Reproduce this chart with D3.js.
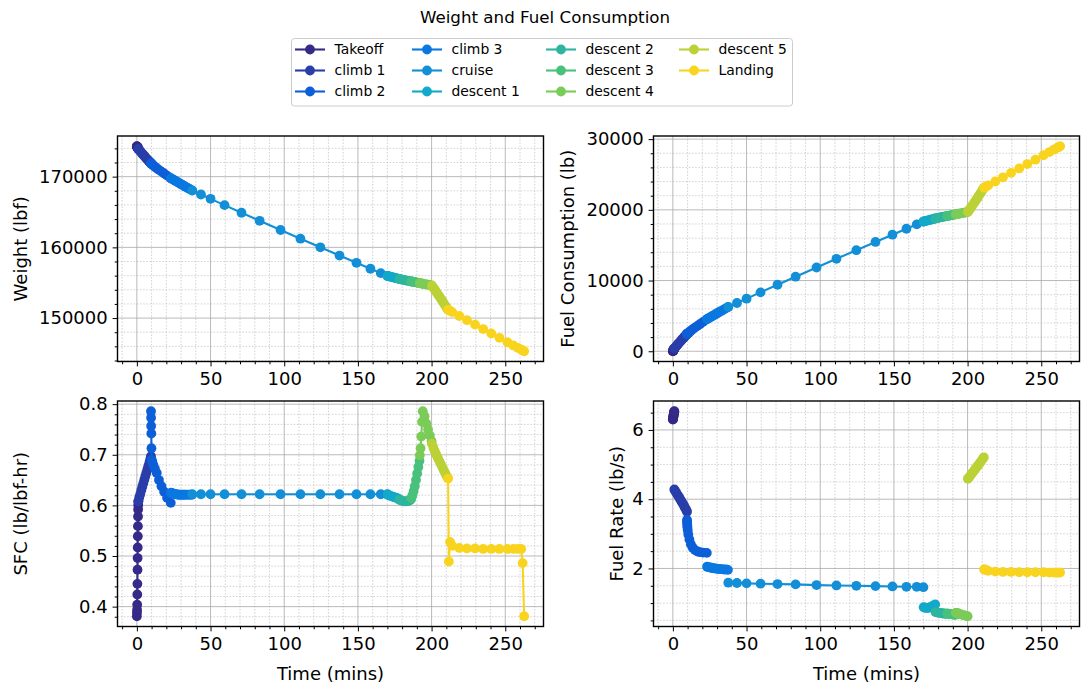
<!DOCTYPE html>
<html>
<head>
<meta charset="utf-8">
<script src="https://cdn.jsdelivr.net/npm/d3@7"></script>
<style>
  body { margin: 0; background: #fff; }
  svg { font-family: "DejaVu Sans", sans-serif; }
  .grid-major line { stroke: #a8a8a8; stroke-width: 0.8; }
  .grid-minor line { stroke: #c8c8c8; stroke-width: 0.8; stroke-dasharray: 1.6,1.6; }
  .tick text { fill: #000; }
  .tick line { stroke: #000; }
</style>
</head>
<body>
<svg id="chart" width="1089" height="691"></svg>
<script>
// flight phases, in the order they are flown
const phases = ["Takeoff", "climb 1", "climb 2", "climb 3", "cruise", "descent 1",
  "descent 2", "descent 3", "descent 4", "descent 5", "Landing"];
const phaseColors = ["#352a87", "#2a3ea9", "#0d5fd8", "#0a78e0", "#128fd6", "#13a9c9",
  "#2db59f", "#48c17c", "#7bcb58", "#bbd136", "#f9d41e"];

// time (mins), one list per phase
const timeData = [
  [0, 0.07, 0.14, 0.21, 0.29, 0.36, 0.43, 0.5, 0.57, 0.64, 0.71, 0.79, 0.86, 0.93, 1.0],
  [1.0, 1.6, 2.3, 3.0, 3.7, 4.4, 5.1, 5.8, 6.5, 7.2, 7.9, 8.6, 9.2, 9.6],
  [9.6, 9.65, 9.7, 9.8, 9.9, 10.1, 10.5, 11.2, 12.2, 13.5, 15.0, 16.7, 18.5, 20.5, 23.0],
  [23.2, 24.0, 25.0, 26.0, 27.0, 28.0, 29.0, 30.0, 31.0, 32.0, 33.0, 34.5, 36.0, 37.4],
  [37.6, 43.5, 50.0, 59.5, 71.0, 83.3, 97.5, 111.0, 124.5, 137.5, 149.0, 158.5, 165.5, 170.0],
  [170.2, 171.0, 172.0, 173.0, 174.0, 175.0, 176.0, 177.0, 178.0],
  [178.2, 179.2, 180.2, 181.2, 182.2, 183.2, 184.2, 185.2, 186.0],
  [186.2, 187.0, 187.8, 188.6, 189.4, 190.2, 191.0, 191.8],
  [192.0, 192.5, 193.0, 193.5, 194.0, 195.2, 196.4, 197.6, 198.8, 200.0],
  [200.2, 201.2, 202.2, 203.2, 204.2, 205.2, 206.2, 207.2, 208.2, 209.2, 210.2, 211.0],
  [211.2, 211.7, 212.5, 214.0, 218.8, 224.0, 229.5, 235.0, 240.5, 246.0, 251.5, 255.5, 258.5, 260.8, 261.8, 262.8]
];

// weight (lbf)
const weightData = [
  [174300, 174273, 174246, 174219, 174192, 174165, 174138, 174111, 174084, 174057, 174030, 174003, 173975, 173947, 173920],
  [173920, 173770, 173595, 173420, 173248, 173078, 172910, 172744, 172580, 172418, 172259, 172102, 171969, 171882],
  [171870, 171860, 171850, 171830, 171812, 171775, 171697, 171570, 171395, 171190, 170960, 170710, 170445, 170150, 169783],
  [169760, 169662, 169540, 169419, 169298, 169178, 169058, 168938, 168819, 168700, 168581, 168404, 168227, 168062],
  [168038, 167477, 166863, 165970, 164897, 163757, 162453, 161225, 160006, 158840, 157815, 156974, 156357, 155961],
  [155950, 155907, 155854, 155802, 155749, 155695, 155640, 155584, 155527],
  [155515, 155471, 155428, 155385, 155342, 155300, 155258, 155216, 155183],
  [155175, 155142, 155109, 155076, 155044, 155012, 154980, 154948],
  [154940, 154918, 154897, 154876, 154855, 154806, 154758, 154711, 154665, 154620],
  [154580, 154290, 153995, 153695, 153390, 153080, 152765, 152447, 152125, 151800, 151470, 151200],
  [151170, 151110, 151016, 150840, 150292, 149700, 149073, 148450, 147827, 147205, 146583, 146131, 145792, 145533, 145420, 145307]
];

// fuel consumption (lb)
const fuelData = [
  [0, 27, 54, 81, 108, 135, 162, 189, 216, 243, 270, 297, 325, 353, 380],
  [380, 530, 705, 880, 1052, 1222, 1390, 1556, 1720, 1882, 2041, 2198, 2331, 2418],
  [2430, 2440, 2450, 2470, 2488, 2525, 2603, 2730, 2905, 3110, 3340, 3590, 3855, 4150, 4517],
  [4540, 4638, 4760, 4881, 5002, 5122, 5242, 5362, 5481, 5600, 5719, 5896, 6073, 6238],
  [6262, 6823, 7437, 8330, 9403, 10543, 11847, 13075, 14294, 15460, 16485, 17326, 17943, 18339],
  [18350, 18393, 18446, 18498, 18551, 18605, 18660, 18716, 18773],
  [18785, 18829, 18872, 18915, 18958, 19000, 19042, 19084, 19117],
  [19125, 19158, 19191, 19224, 19256, 19288, 19320, 19352],
  [19360, 19382, 19403, 19424, 19445, 19494, 19542, 19589, 19635, 19680],
  [19720, 20010, 20305, 20605, 20910, 21220, 21535, 21853, 22175, 22500, 22830, 23100],
  [23130, 23190, 23284, 23460, 24008, 24600, 25227, 25850, 26473, 27095, 27717, 28169, 28508, 28767, 28880, 28993]
];

// SFC (lb/lbf-hr)
const sfcData = [
  [0.381, 0.388, 0.394, 0.404, 0.424, 0.445, 0.473, 0.496, 0.517, 0.539, 0.559, 0.578, 0.592, 0.601, 0.608],
  [0.608, 0.615, 0.622, 0.630, 0.637, 0.644, 0.651, 0.658, 0.665, 0.672, 0.679, 0.686, 0.692, 0.697],
  [0.786, 0.773, 0.757, 0.742, 0.713, 0.690, 0.686, 0.680, 0.673, 0.664, 0.650, 0.638, 0.627, 0.615, 0.605],
  [0.625, 0.624, 0.623, 0.622, 0.622, 0.621, 0.621, 0.621, 0.621, 0.621, 0.621, 0.621, 0.621, 0.621],
  [0.622, 0.622, 0.622, 0.622, 0.622, 0.622, 0.622, 0.622, 0.622, 0.622, 0.622, 0.622, 0.622, 0.622],
  [0.621, 0.620, 0.619, 0.618, 0.617, 0.616, 0.615, 0.614, 0.612],
  [0.611, 0.610, 0.609, 0.608, 0.608, 0.608, 0.609, 0.610, 0.612],
  [0.614, 0.620, 0.628, 0.638, 0.650, 0.663, 0.676, 0.688],
  [0.699, 0.713, 0.736, 0.765, 0.786, 0.776, 0.762, 0.750, 0.738, 0.727],
  [0.722, 0.714, 0.707, 0.700, 0.694, 0.688, 0.682, 0.676, 0.670, 0.664, 0.658, 0.654],
  [0.653, 0.489, 0.528, 0.520, 0.516, 0.515, 0.515, 0.514, 0.514, 0.514, 0.514, 0.514, 0.514, 0.514, 0.486, 0.381]
];

// fuel rate (lb/s)
const rateData = [
  [6.30, 6.31, 6.33, 6.35, 6.37, 6.39, 6.41, 6.43, 6.45, 6.47, 6.49, 6.50, 6.51, 6.53, 6.54],
  [4.28, 4.24, 4.19, 4.14, 4.09, 4.04, 3.99, 3.94, 3.89, 3.84, 3.78, 3.73, 3.68, 3.64],
  [3.40, 3.36, 3.30, 3.24, 3.18, 3.10, 2.98, 2.84, 2.70, 2.60, 2.53, 2.49, 2.47, 2.46, 2.45],
  [2.05, 2.04, 2.03, 2.02, 2.01, 2.00, 2.00, 1.99, 1.99, 1.98, 1.98, 1.97, 1.97, 1.96],
  [1.59, 1.58, 1.57, 1.56, 1.55, 1.54, 1.52, 1.51, 1.50, 1.49, 1.48, 1.47, 1.47, 1.46],
  [0.88, 0.87, 0.86, 0.86, 0.87, 0.89, 0.91, 0.93, 0.96],
  [0.74, 0.73, 0.72, 0.72, 0.71, 0.70, 0.70, 0.69, 0.69],
  [0.70, 0.69, 0.69, 0.68, 0.68, 0.67, 0.67, 0.66],
  [0.72, 0.72, 0.71, 0.70, 0.69, 0.68, 0.66, 0.65, 0.63, 0.62],
  [4.59, 4.64, 4.70, 4.76, 4.81, 4.87, 4.93, 4.98, 5.04, 5.10, 5.16, 5.21],
  [1.97, 1.97, 1.96, 1.93, 1.91, 1.90, 1.90, 1.89, 1.89, 1.89, 1.89, 1.88, 1.88, 1.88, 1.88, 1.88]
];

const timeTicks = [0, 50, 100, 150, 200, 250];

let svg = d3.select("#chart");
let panelW = 426, panelH = 225.5;
let tickFont = 18, labelFont = 18;

let panels = [
  {data: weightData, left: 117.5, top: 136, ylabel: "Weight (lbf)", labelX: 21,
   yTicks: [150000, 160000, 170000], minorStep: 2000, fmt: d3.format("d"), xlabel: false},
  {data: fuelData, left: 653.5, top: 136, ylabel: "Fuel Consumption (lb)", labelX: 568,
   yTicks: [0, 10000, 20000, 30000], minorStep: 2000, fmt: d3.format("d"), xlabel: false},
  {data: sfcData, left: 117.5, top: 401, ylabel: "SFC (lb/lbf-hr)", labelX: 21,
   yTicks: [0.4, 0.5, 0.6, 0.7, 0.8], minorStep: 0.02, fmt: d3.format(".1f"), xlabel: true},
  {data: rateData, left: 653.5, top: 401, ylabel: "Fuel Rate (lb/s)", labelX: 617,
   yTicks: [2, 4, 6], minorStep: 0.5, fmt: d3.format("d"), xlabel: true}
];

// matplotlib-style 5% margins
function padded(ext) {
  let m = (ext[1] - ext[0]) * 0.05;
  return [ext[0] - m, ext[1] + m];
}

function minorTicks(domain, step, majors) {
  let out = [];
  let start = Math.ceil(domain[0] / step);
  for (let k = start; k * step <= domain[1]; k++) {
    let v = +(k * step).toFixed(6);
    if (!majors.some(m => Math.abs(m - v) < step / 100)) out.push(v);
  }
  return out;
}

let xDomain = padded(d3.extent(timeData.flat()));

panels.forEach(p => {
  let g = svg.append("g").attr("transform", `translate(${p.left},${p.top})`);

  let x = d3.scaleLinear().domain(xDomain).range([0, panelW]);
  let y = d3.scaleLinear().domain(padded(d3.extent(p.data.flat()))).range([panelH, 0]);

  let xMinor = minorTicks(xDomain, 10, timeTicks);
  let yMinor = minorTicks(y.domain(), p.minorStep, p.yTicks);

  // grid: minor dotted first, then major solid
  g.append("g").attr("class", "grid-minor")
    .selectAll("line").data(xMinor).join("line")
    .attr("x1", d => x(d)).attr("x2", d => x(d)).attr("y1", 0).attr("y2", panelH);
  g.append("g").attr("class", "grid-minor")
    .selectAll("line").data(yMinor).join("line")
    .attr("y1", d => y(d)).attr("y2", d => y(d)).attr("x1", 0).attr("x2", panelW);
  g.append("g").attr("class", "grid-major")
    .selectAll("line").data(timeTicks).join("line")
    .attr("x1", d => x(d)).attr("x2", d => x(d)).attr("y1", 0).attr("y2", panelH);
  g.append("g").attr("class", "grid-major")
    .selectAll("line").data(p.yTicks).join("line")
    .attr("y1", d => y(d)).attr("y2", d => y(d)).attr("x1", 0).attr("x2", panelW);

  // phase lines + markers
  let line = d3.line().x(d => x(d[0])).y(d => y(d[1]));
  phases.forEach((name, i) => {
    let pts = timeData[i].map((t, j) => [t, p.data[i][j]]);
    g.append("path")
      .attr("d", line(pts))
      .attr("fill", "none")
      .attr("stroke", phaseColors[i])
      .attr("stroke-width", 2.1);
    g.append("g").selectAll("circle").data(pts).join("circle")
      .attr("cx", d => x(d[0]))
      .attr("cy", d => y(d[1]))
      .attr("r", 4.9)
      .attr("fill", phaseColors[i]);
  });

  // axes
  g.append("g").attr("transform", `translate(0,${panelH})`)
    .call(d3.axisBottom(x).tickValues(timeTicks).tickSize(4.9).tickPadding(6));
  g.append("g").attr("transform", `translate(0,${panelH})`)
    .call(d3.axisBottom(x).tickValues(xMinor).tickSize(2.8).tickFormat(""));
  g.append("g")
    .call(d3.axisLeft(y).tickValues(p.yTicks).tickSize(4.9).tickPadding(4.9).tickFormat(p.fmt));
  g.append("g")
    .call(d3.axisLeft(y).tickValues(yMinor).tickSize(2.8).tickFormat(""));
  g.selectAll(".domain").remove();
  g.selectAll(".tick line").attr("stroke-width", 1);
  g.selectAll(".tick text").attr("font-size", tickFont).attr("font-family", "DejaVu Sans, sans-serif");

  // frame
  g.append("rect")
    .attr("width", panelW).attr("height", panelH)
    .attr("fill", "none").attr("stroke", "#000").attr("stroke-width", 1.4);

  svg.append("text")
    .attr("transform", `translate(${p.labelX},${p.top + panelH / 2}) rotate(-90)`)
    .attr("text-anchor", "middle")
    .attr("dy", "0.35em")
    .attr("font-size", labelFont)
    .text(p.ylabel);

  if (p.xlabel) {
    svg.append("text")
      .attr("x", p.left + panelW / 2)
      .attr("y", p.top + panelH + 53)
      .attr("text-anchor", "middle")
      .attr("font-size", labelFont)
      .text("Time (mins)");
  }
});

// title
svg.append("text")
  .attr("x", 545).attr("y", 23)
  .attr("text-anchor", "middle")
  .attr("font-size", 16.7)
  .text("Weight and Fuel Consumption");

// legend, 4 columns filled top-to-bottom
let legend = svg.append("g");
legend.append("rect")
  .attr("x", 291.5).attr("y", 38.5).attr("width", 501).attr("height", 67.5)
  .attr("rx", 3).attr("fill", "#fff").attr("stroke", "#cccccc");
let colX = [295, 412, 546, 679], rowY = [49.5, 70.5, 91.5];
phases.forEach((name, i) => {
  let cx = colX[Math.floor(i / 3)], cy = rowY[i % 3];
  let e = legend.append("g").attr("transform", `translate(${cx},${cy})`);
  e.append("line").attr("x1", 0).attr("x2", 30).attr("stroke", phaseColors[i]).attr("stroke-width", 2.1);
  e.append("circle").attr("cx", 15).attr("r", 4.9).attr("fill", phaseColors[i]);
  e.append("text").attr("x", 39.5).attr("dy", "0.35em").attr("font-size", 13.9).text(name);
});
</script>
</body>
</html>
